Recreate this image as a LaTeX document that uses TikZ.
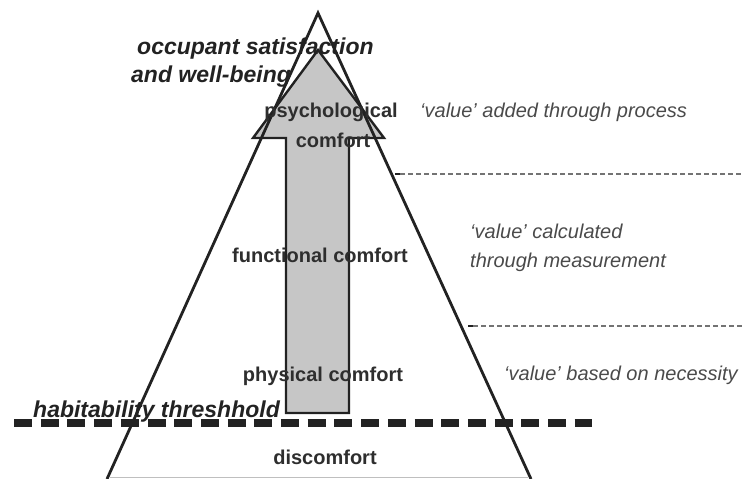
\documentclass[tikz,border=0pt]{standalone}
\usepackage{fontspec}
\setmainfont{Liberation Sans}
\usetikzlibrary{positioning}
\definecolor{pyrline}{HTML}{222222}
\definecolor{pyrtext}{HTML}{2E2E2E}
\definecolor{valtext}{HTML}{4A4A4A}
\definecolor{arrowfill}{HTML}{C6C6C6}

\begin{document}
\begin{tikzpicture}[x=1pt, y=-1pt,
  level/.style={font=\fontsize{20}{22}\selectfont\bfseries, text=pyrtext, inner sep=0, anchor=base},
  valnote/.style={font=\fontsize{20}{22}\selectfont\itshape, text=valtext, inner sep=0, anchor=base west},
  marker/.style={font=\fontsize{23}{26}\selectfont\bfseries\itshape, text=pyrline, inner sep=0, anchor=base west},
  divider/.style={line width=1.6pt, draw=black!55, dash pattern=on 5pt off 3pt},
  threshold/.style={line width=8pt, draw=pyrline, dash pattern=on 18pt off 8.7pt}
]
\useasboundingbox (0,0) rectangle (742,479);

% rising arrow inside the pyramid
\draw[line width=2.4pt, draw=pyrline, fill=arrowfill, line join=miter]
  (286,413) -- (286,138) -- (253,138) -- (318,50) -- (384,138)
  -- (349,138) -- (349,413) -- cycle;

% pyramid outline
\draw[line width=0.8pt, draw=black!25] (110,477) -- (528,477);
\draw[line width=2.8pt, draw=pyrline, line join=miter] (107,479) -- (318,13) -- (531,479);

% value bands to the right
\foreach \yy/\xx in {174/395, 326/468}{
  \draw[divider] (\xx+5,\yy) -- (742,\yy);
  \draw[line width=1.8pt, pyrline] (\xx,\yy) -- (\xx+5,\yy);
}

% habitability threshold
\draw[threshold] (14,423) -- (592,423);

% comfort levels
\node[level] (psych) at (331,117) {psychological};
\node[level] (psychb) at (333,147) {comfort};
\node[level] (func) at (320,262) {functional comfort};
\node[level] (phys) at (323,381) {physical comfort};
\node[level] (disc) at (325,464) {discomfort};

% value notes
\node[valnote] (vproc) at (420,117) {`value' added through process};
\node[valnote] (vmeas) at (470,238) {`value' calculated};
\node[valnote] (vmeasb) at (470,267) {through measurement};
\node[valnote] (vneed) at (504,380) {`value' based on necessity};

% outer labels
\node[marker] (occ) at (137,54) {occupant satisfaction};
\node[marker] (occb) at (131,82) {and well-being};
\node[marker] (hab) at (33,417) {habitability threshhold};
\end{tikzpicture}
\end{document}
